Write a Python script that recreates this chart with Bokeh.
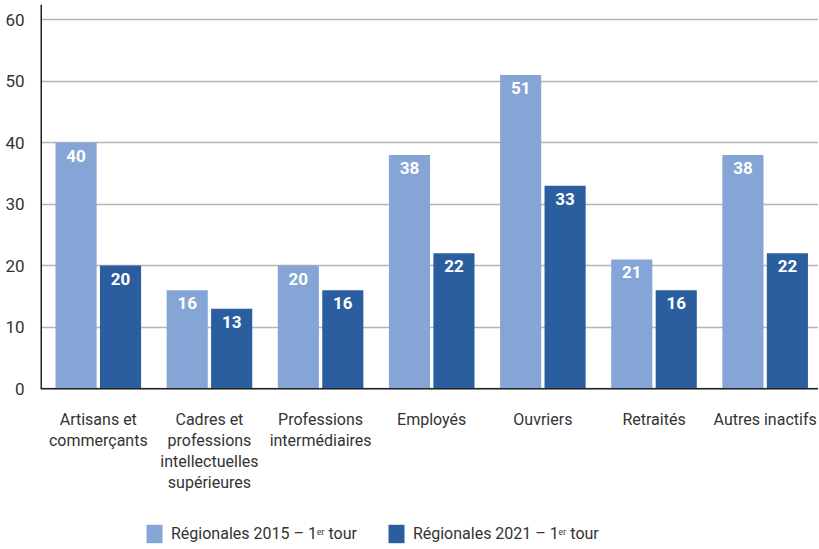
from bokeh.plotting import figure
from bokeh.models import Range1d, FixedTicker, Legend, LegendItem, ColumnDataSource, Span
from bokeh.core.properties import value
from bokeh.embed import file_html
from bokeh.resources import INLINE

categories = ["Artisans et\ncommerçants",
              "Cadres et\nprofessions\nintellectuelles\nsupérieures",
              "Professions\nintermédiaires",
              "Employés", "Ouvriers", "Retraités", "Autres inactifs"]
series_2015 = [40, 16, 20, 38, 51, 21, 38]
series_2021 = [20, 13, 16, 22, 33, 16, 22]
series_names = ["Régionales 2015 – 1ᵉʳ tour", "Régionales 2021 – 1ᵉʳ tour"]
y_ticks = [0, 10, 20, 30, 40, 50, 60]

FONT = "Roboto"
C1 = "#84a5d5"
C2 = "#2b5e9f"
TXT = "#333333"

xs = list(range(len(categories)))
src1 = ColumnDataSource(dict(x=[i - 0.2 for i in xs], y=series_2015,
                             t=[str(v) for v in series_2015]))
src2 = ColumnDataSource(dict(x=[i + 0.2 for i in xs], y=series_2021,
                             t=[str(v) for v in series_2021]))
cat_src = ColumnDataSource(dict(x=xs, y=[0] * len(xs), t=categories))

Y_TOP = 63.1
Y_BOTTOM = -25.5
p = figure(width=818, height=545, output_backend="svg", toolbar_location=None,
           x_range=Range1d(-0.52, 6.48), y_range=Range1d(Y_BOTTOM, Y_TOP),
           min_border_left=40, min_border_right=0, min_border_top=0, min_border_bottom=0)
p.outline_line_color = None
p.background_fill_color = "white"

p.xgrid.grid_line_color = None
p.ygrid.grid_line_color = "#b5b5b5"
p.ygrid.grid_line_width = 1.5
p.ygrid.ticker = FixedTicker(ticks=y_ticks)

r1 = p.vbar(x="x", top="y", width=0.37, source=src1, fill_color=C1, line_color=None)
r2 = p.vbar(x="x", top="y", width=0.37, source=src2, fill_color=C2, line_color=None)

for s in (src1, src2):
    p.text(x="x", y="y", text="t", source=s, text_align="center", text_baseline="top",
           y_offset=7, text_color="white", text_font=value(FONT),
           text_font_style="bold", text_font_size="17px")

# axis lines
p.add_layout(Span(location=0, dimension="width", line_color="#222222", line_width=1.5))
p.segment(x0=[-0.52], y0=[0], x1=[-0.52], y1=[62.4], line_color="#222222", line_width=3)

# category labels
p.text(x="x", y="y", text="t", source=cat_src, text_align="center", text_baseline="top",
       y_offset=21, text_color=TXT, text_font=value(FONT), text_font_size="16px",
       text_line_height=1.12)

p.xaxis.visible = False
p.yaxis.ticker = FixedTicker(ticks=y_ticks)
p.yaxis.axis_line_color = None
p.yaxis.major_tick_line_color = None
p.yaxis.minor_tick_line_color = None
p.yaxis.major_label_text_font = FONT
p.yaxis.major_label_text_font_size = "17px"
p.yaxis.major_label_text_color = TXT
p.yaxis.major_label_standoff = 10

legend = Legend(items=[LegendItem(label=series_names[0], renderers=[r1]),
                       LegendItem(label=series_names[1], renderers=[r2])],
                orientation="horizontal", location=(104, 0),
                glyph_width=20, glyph_height=23, spacing=29, label_standoff=7,
                label_text_font=FONT, label_text_font_size="16px",
                label_text_color=TXT, border_line_color=None,
                background_fill_alpha=0, margin=0, padding=0)
p.add_layout(legend, "center")

open("out.html", "w").write(file_html(p, INLINE))
